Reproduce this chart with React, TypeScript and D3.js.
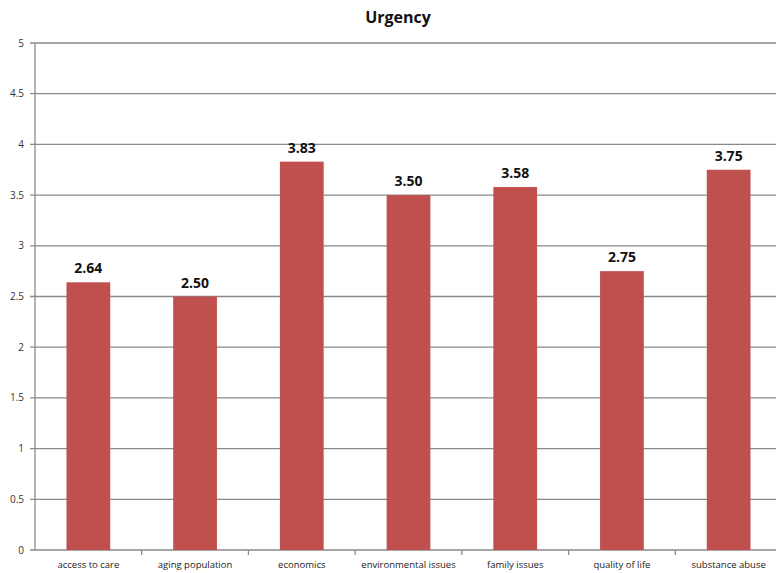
import React from "react";
import * as d3 from "d3";

const categories = ["access to care", "aging population", "economics", "environmental issues", "family issues", "quality of life", "substance abuse"];
const values = [2.64, 2.5, 3.83, 3.5, 3.58, 2.75, 3.75];
const yTicks = [0, 0.5, 1, 1.5, 2, 2.5, 3, 3.5, 4, 4.5, 5];
const title = "Urgency";

export default function App() {
  const W = 776, H = 573;
  const left = 35, right = 782, top = 43, bottom = 550;
  const x = d3.scaleBand<string>().domain(categories).range([left, right]).paddingInner(0.59).paddingOuter(0.295);
  const band = d3.scaleBand<string>().domain(categories).range([left, right]);
  const y = d3.scaleLinear().domain([0, 5]).range([bottom, top]);
  const font = "'Open Sans', 'Liberation Sans', sans-serif";
  return (
    <svg width={W} height={H} style={{ position: "absolute", left: 0, top: 0, background: "#fff" }}>
      <text x={398} y={23} textAnchor="middle" fontFamily={font} fontWeight="bold" fontSize={16} fill="#111">{title}</text>
      {yTicks.map((t) => (
        <g key={t}>
          <line x1={left - 5} x2={right} y1={y(t)} y2={y(t)} stroke="#8a8a8a" strokeWidth={1.3} />
          <text x={left - 11} y={y(t) + 3.5} textAnchor="end" fontFamily={font} fontSize={10} fill="#333">{String(t)}</text>
        </g>
      ))}
      <line x1={left} x2={left} y1={top} y2={bottom} stroke="#8a8a8a" strokeWidth={1.3} />
      {categories.map((c, i) => (
        <line key={"t" + c} x1={(band(c) as number) + band.bandwidth()} x2={(band(c) as number) + band.bandwidth()} y1={bottom} y2={bottom + 5} stroke="#8a8a8a" strokeWidth={1.3} />
      ))}
      {categories.map((c, i) => (
        <g key={c}>
          <rect x={x(c)} y={y(values[i])} width={x.bandwidth()} height={bottom - y(values[i])} fill="#c0504d" />
          <text x={(x(c) as number) + x.bandwidth() / 2} y={y(values[i]) - 9} textAnchor="middle" fontFamily={font} fontWeight="bold" fontSize={14} fill="#111">{values[i].toFixed(2)}</text>
          <text x={(band(c) as number) + band.bandwidth() / 2} y={568} textAnchor="middle" fontFamily={font} fontSize={9.5} fill="#222">{c}</text>
        </g>
      ))}
    </svg>
  );
}
